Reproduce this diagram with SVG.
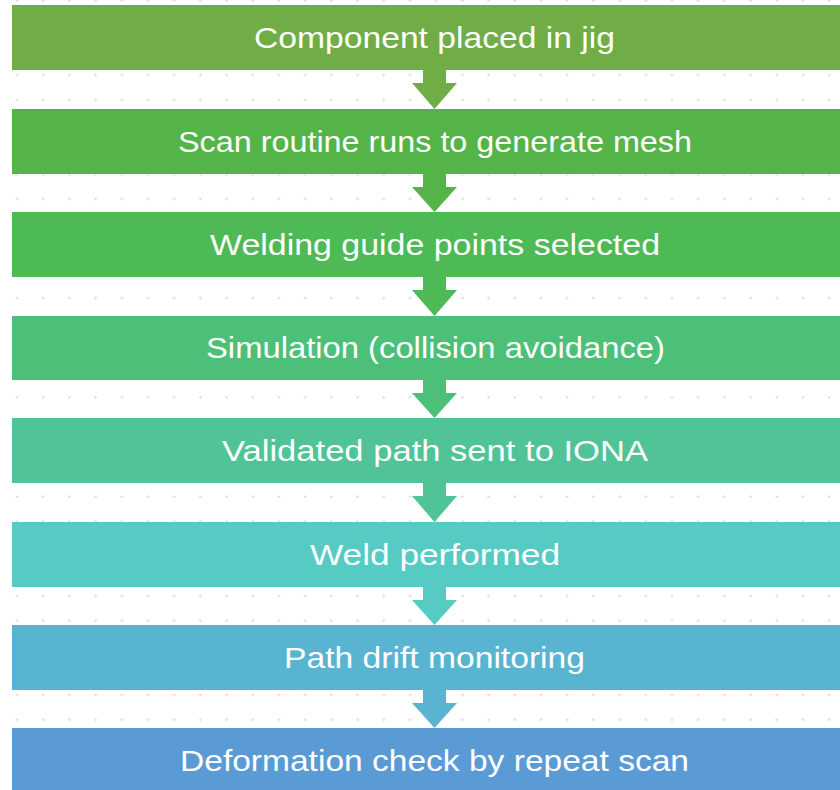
<svg xmlns="http://www.w3.org/2000/svg" width="840" height="790" viewBox="0 0 840 790">
<defs>
<pattern id="dots" patternUnits="userSpaceOnUse" x="3.9" y="62.6" width="26.2" height="24.8">
<circle cx="13.1" cy="12.4" r="1.3" fill="#dcdcdc"/>
</pattern>
<style>
.lbl{font-family:"Liberation Sans","DejaVu Sans",sans-serif;font-size:30px;fill:#ffffff;text-anchor:middle}
</style>
</defs>
<rect width="840" height="790" fill="#ffffff"/>
<rect x="0" y="0" width="840" height="790" fill="url(#dots)"/>
<g id="connectors">
<path id="a1" d="M423,70 V83 H412 L434.5,109 L457,83 H446 V70 Z" fill="#70AD47"/>
<path id="a2" d="M423,174 V187 H412 L434.5,212 L457,187 H446 V174 Z" fill="#54B448"/>
<path id="a3" d="M423,277 V290 H412 L434.5,316 L457,290 H446 V277 Z" fill="#4EBA56"/>
<path id="a4" d="M423,380 V393 H412 L434.5,418 L457,393 H446 V380 Z" fill="#4CC078"/>
<path id="a5" d="M423,483 V496 H412 L434.5,522 L457,496 H446 V483 Z" fill="#50C496"/>
<path id="a6" d="M423,587 V600 H412 L434.5,625 L457,600 H446 V587 Z" fill="#55CBC3"/>
<path id="a7" d="M423,690 V703 H412 L434.5,728 L457,703 H446 V690 Z" fill="#58B4D0"/>
</g>
<g id="n1"><rect x="12" y="5" width="830" height="65" fill="#70AD47"/><text class="lbl" x="434.5" y="48" textLength="361" lengthAdjust="spacingAndGlyphs">Component placed in jig</text></g>
<g id="n2"><rect x="12" y="109" width="830" height="65" fill="#54B448"/><text class="lbl" x="435" y="152" textLength="514" lengthAdjust="spacingAndGlyphs">Scan routine runs to generate mesh</text></g>
<g id="n3"><rect x="12" y="212" width="830" height="65" fill="#4EBA56"/><text class="lbl" x="435" y="255" textLength="450" lengthAdjust="spacingAndGlyphs">Welding guide points selected</text></g>
<g id="n4"><rect x="12" y="316" width="830" height="64" fill="#4CC078"/><text class="lbl" x="435.5" y="358" textLength="459" lengthAdjust="spacingAndGlyphs">Simulation (collision avoidance)</text></g>
<g id="n5"><rect x="12" y="418" width="830" height="65" fill="#50C496"/><text class="lbl" x="435" y="461" textLength="426" lengthAdjust="spacingAndGlyphs">Validated path sent to IONA</text></g>
<g id="n6"><rect x="12" y="522" width="830" height="65" fill="#55CBC3"/><text class="lbl" x="435" y="565" textLength="250" lengthAdjust="spacingAndGlyphs">Weld performed</text></g>
<g id="n7"><rect x="12" y="625" width="830" height="65" fill="#58B4D0"/><text class="lbl" x="434.5" y="668" textLength="301" lengthAdjust="spacingAndGlyphs">Path drift monitoring</text></g>
<g id="n8"><rect x="12" y="728" width="830" height="65" fill="#5B9BD5"/><text class="lbl" x="434.5" y="771" textLength="509" lengthAdjust="spacingAndGlyphs">Deformation check by repeat scan</text></g>
</svg>
